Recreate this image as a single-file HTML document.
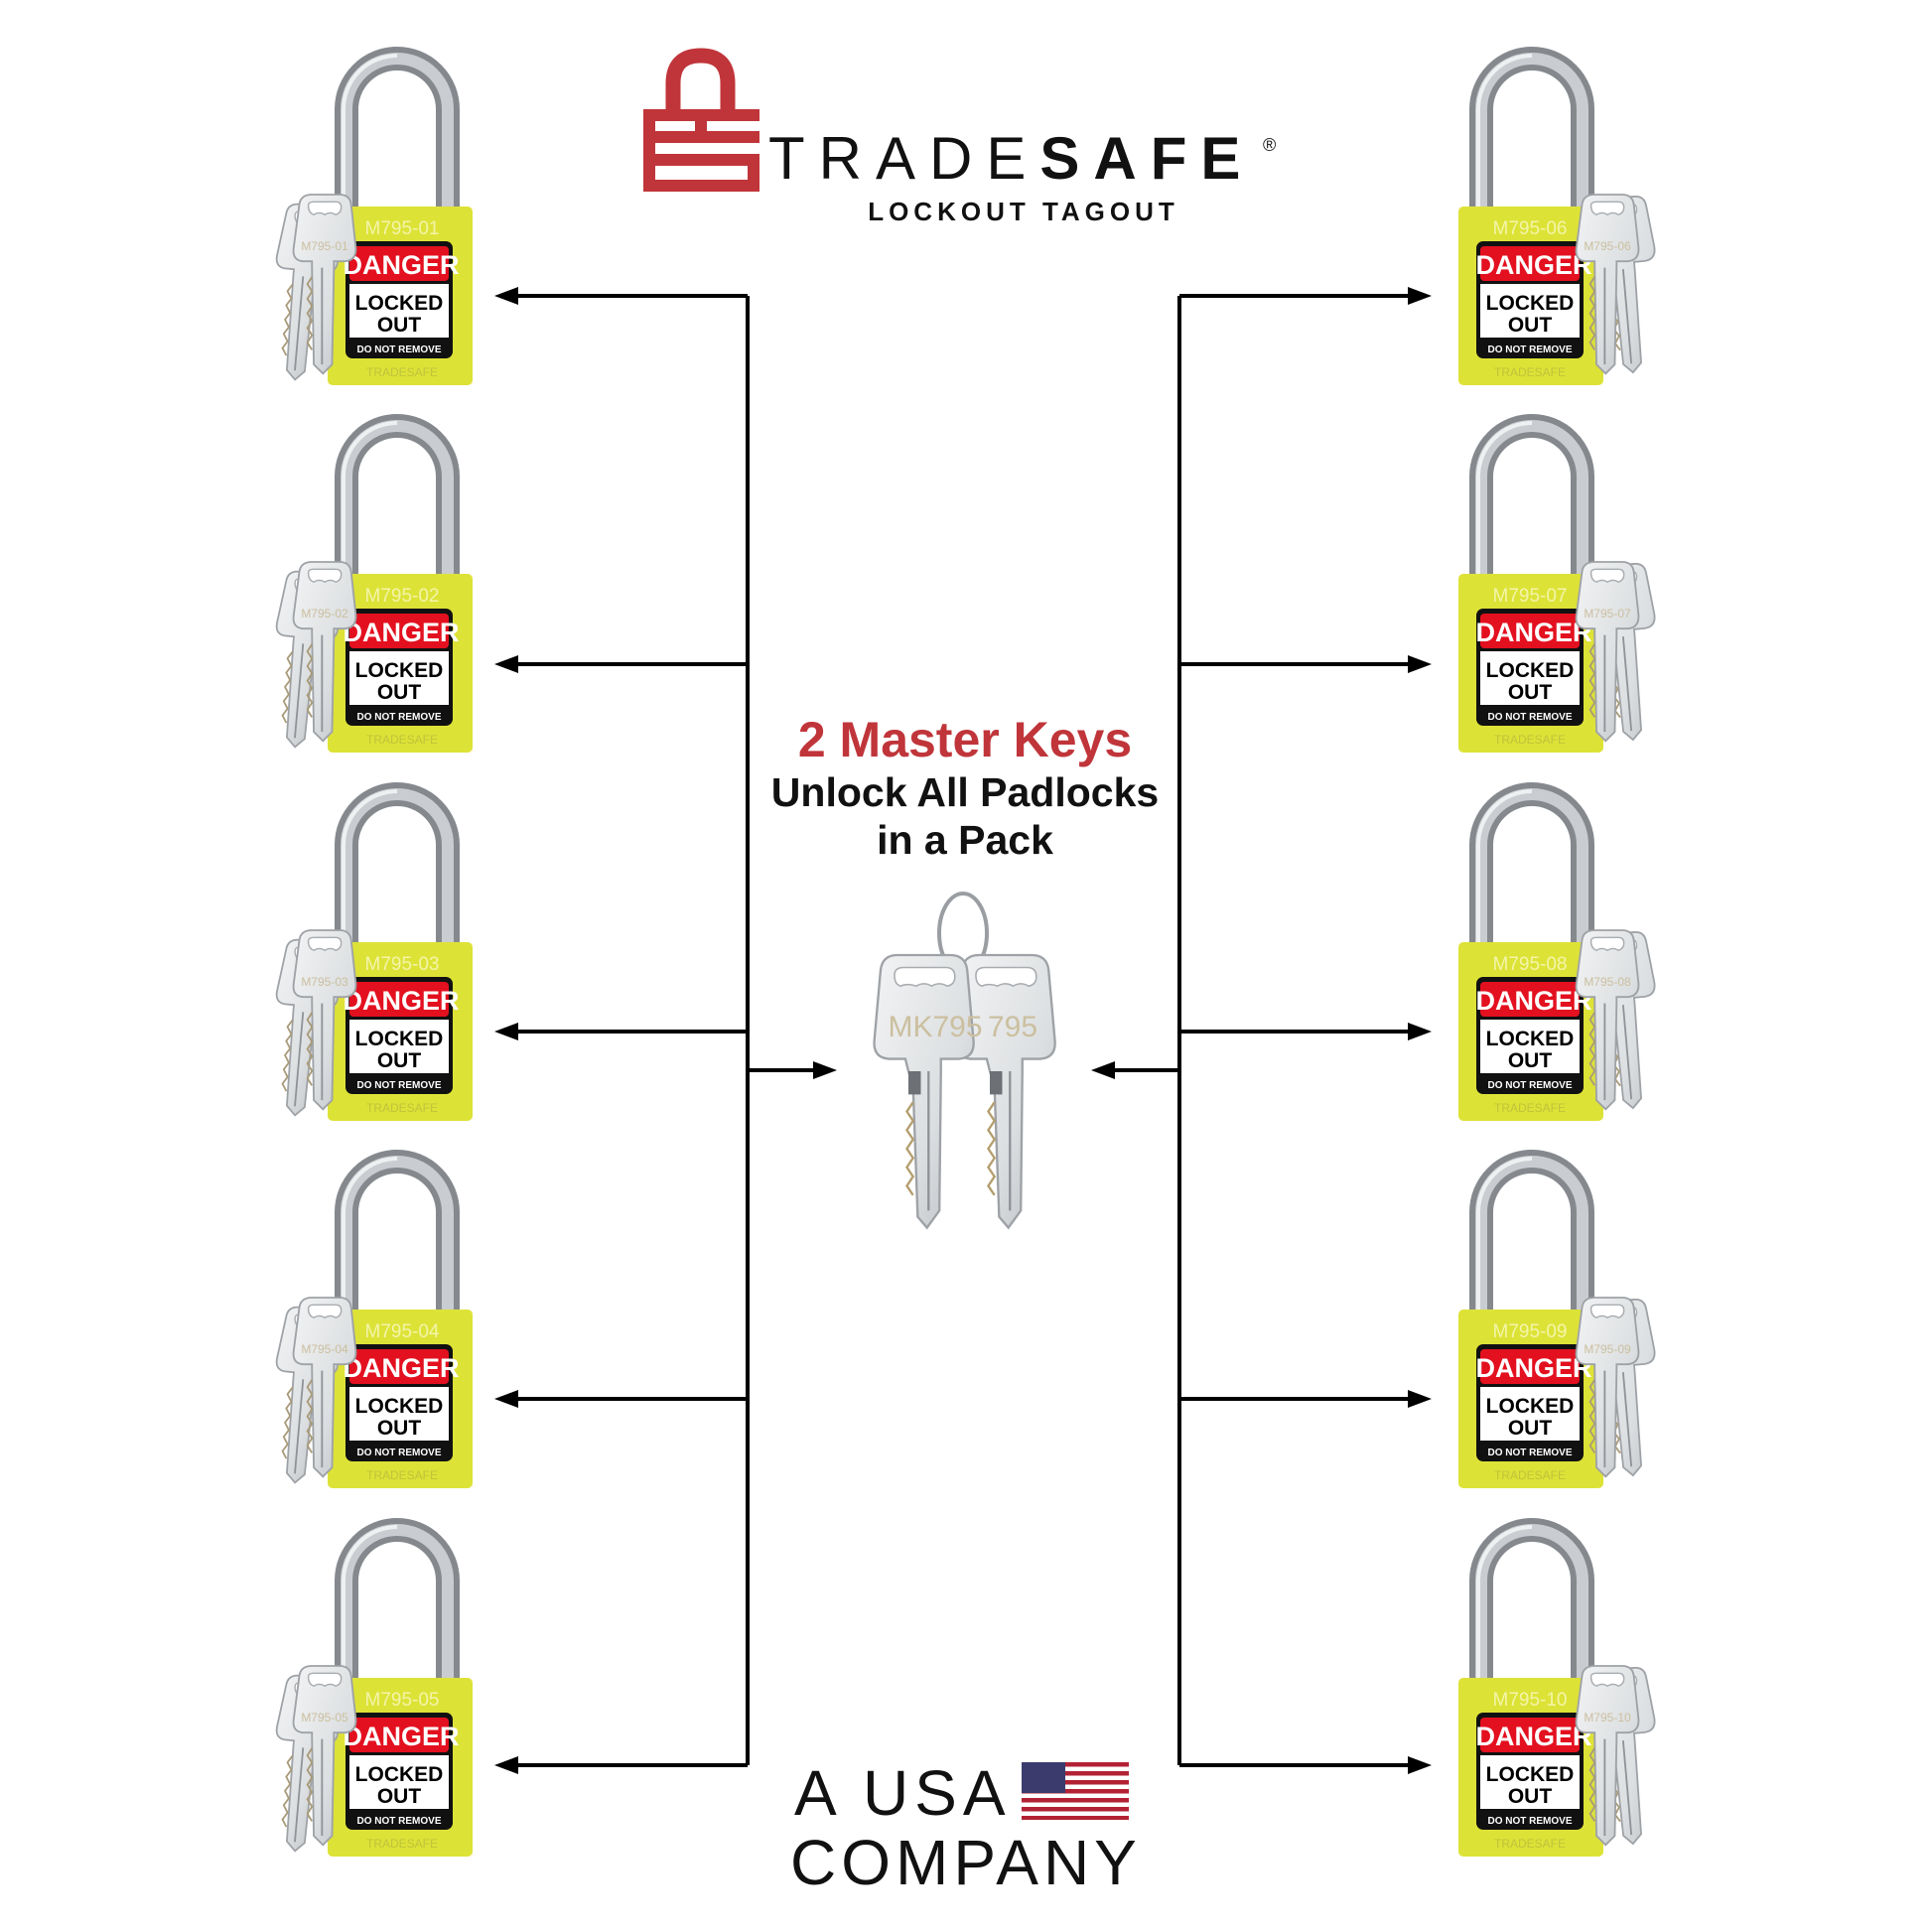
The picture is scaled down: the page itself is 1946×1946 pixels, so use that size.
<!DOCTYPE html>
<html><head><meta charset="utf-8"><style>
html,body{margin:0;padding:0;background:#fff;}
svg{display:block;}
text{font-family:"Liberation Sans",sans-serif;}
</style></head><body>
<svg width="1946" height="1946" viewBox="0 0 1946 1946" xmlns="http://www.w3.org/2000/svg">
<defs>
<linearGradient id="keyg" x1="0" x2="1" y1="0" y2="1">
<stop offset="0" stop-color="#f2f3f4"/><stop offset="0.6" stop-color="#dcdfe1"/><stop offset="1" stop-color="#b9bdc1"/>
</linearGradient>
<g id="shackle">
<path d="M19,12 V-98 A51,51 0 0 1 121,-98 V12" fill="none" stroke="#85898e" stroke-width="24"/>
<path d="M19,12 V-98 A51,51 0 0 1 121,-98 V12" fill="none" stroke="#c9ccd0" stroke-width="12"/>
<path d="M16,12 V-98 A54,54 0 0 1 70,-152" fill="none" stroke="#eef0f1" stroke-width="4"/>
</g>
<g id="body">
<rect x="0" y="0" width="146" height="180" rx="5" fill="#dde237"/>
<rect x="18" y="35" width="108" height="118" rx="7" fill="#111"/>
<rect x="22" y="40" width="100" height="35" rx="4" fill="#e3101f"/>
<rect x="22" y="78" width="100" height="54" fill="#fff"/>
</g>
<g id="key">
<path d="M8,12 Q9,0 22,0 H52 Q64,0 65,12 L70,58 Q71,72 58,73 H46 L46,80 L44,186 L34,196 L24,186 L22,80 L22,73 H12 Q0,72 2,58 Z" fill="url(#keyg)" stroke="#9ea2a6" stroke-width="2"/>
<path d="M18,12 Q18,8 24,8 H48 Q54,8 54,14 Q54,20 48,22 Q42,18 36,22 Q30,18 24,22 Q18,20 18,12 Z" fill="#fff" stroke="#a8acb0" stroke-width="1.5"/>
<path d="M22,90 L17,98 L22,106 L17,114 L22,122 L17,130 L22,138 L17,146 L22,154 L17,162 L22,170" fill="none" stroke="#a99a7a" stroke-width="2"/>
<line x1="33" y1="80" x2="33" y2="186" stroke="#8f9398" stroke-width="2"/>
</g>
<g id="bigkey">
<path d="M14,20 Q16,0 36,0 H104 Q124,0 126,20 L134,110 Q136,132 116,134 H92 L92,150 L90,330 L74,352 L62,338 L56,170 L50,150 L46,134 H24 Q4,132 6,110 Z" fill="url(#keyg)" stroke="#9ea2a6" stroke-width="3"/>
<path d="M32,26 Q32,16 44,16 H98 Q110,16 110,28 Q110,38 100,40 Q90,34 80,40 Q70,34 60,40 Q48,36 40,40 Q32,38 32,26 Z" fill="#fff" stroke="#a8acb0" stroke-width="2"/>
<path d="M56,190 L48,202 L56,214 L48,226 L56,238 L48,250 L56,262 L48,274 L56,286 L48,298 L56,310" fill="none" stroke="#b39e6e" stroke-width="3"/>
<rect x="50" y="150" width="16" height="30" fill="#6d7176"/>
<line x1="76" y1="150" x2="76" y2="330" stroke="#8f9398" stroke-width="3"/>
</g>
<g id="lkeys">
<use href="#key" transform="translate(-48,-4) rotate(5) scale(0.9)"/>
<use href="#key" transform="translate(-36,-12) scale(0.92)"/>
</g>
<g id="rkeys">
<use href="#key" transform="translate(130,-6) rotate(-5) scale(0.9)"/>
<use href="#key" transform="translate(117,-12) scale(0.92)"/>
</g>
</defs>

<!-- Logo -->
<g fill="#c0353a">
<path d="M678,120 V84 Q678,56 706,56 Q733,56 733,84 V120" fill="none" stroke="#c0353a" stroke-width="15"/>
<rect x="648" y="110" width="117" height="12"/>
<rect x="648" y="110" width="12" height="83"/>
<rect x="648" y="132" width="117" height="12"/>
<rect x="648" y="155" width="117" height="12"/>
<rect x="753" y="155" width="12" height="38"/>
<rect x="648" y="181" width="117" height="12"/>
<rect x="700" y="122" width="12" height="22"/>
</g>
<text x="774" y="180" font-size="60" fill="#111" letter-spacing="14"><tspan font-weight="normal">TRADE</tspan><tspan font-weight="bold">SAFE</tspan></text>
<text x="1272" y="152" font-size="18" fill="#111">®</text>
<text x="1031" y="222" font-size="26" font-weight="bold" fill="#111" text-anchor="middle" letter-spacing="5">LOCKOUT TAGOUT</text>

<!-- connectors -->
<g stroke="#000" stroke-width="4" fill="none">
<path d="M753,298 V1778"/>
<path d="M1188,298 V1778"/>
<path d="M753,298 H515 M753,669 H515 M753,1039 H515 M753,1409 H515 M753,1778 H515"/>
<path d="M1188,298 H1425 M1188,669 H1425 M1188,1039 H1425 M1188,1409 H1425 M1188,1778 H1425"/>
<path d="M753,1078 H825 M1188,1078 H1117"/>
</g>
<g fill="#000">
<path d="M498,298 l24,-9 v18 z"/><path d="M498,669 l24,-9 v18 z"/><path d="M498,1039 l24,-9 v18 z"/><path d="M498,1409 l24,-9 v18 z"/><path d="M498,1778 l24,-9 v18 z"/>
<path d="M1442,298 l-24,-9 v18 z"/><path d="M1442,669 l-24,-9 v18 z"/><path d="M1442,1039 l-24,-9 v18 z"/><path d="M1442,1409 l-24,-9 v18 z"/><path d="M1442,1778 l-24,-9 v18 z"/>
<path d="M843,1078 l-24,-9 v18 z"/><path d="M1099,1078 l24,-9 v18 z"/>
</g>

<!-- center text -->
<text x="972" y="762" font-size="50" font-weight="bold" fill="#c0353a" text-anchor="middle">2 Master Keys</text>
<text x="972" y="812" font-size="41" font-weight="bold" fill="#111" text-anchor="middle">Unlock All Padlocks</text>
<text x="972" y="860" font-size="41" font-weight="bold" fill="#111" text-anchor="middle">in a Pack</text>

<!-- master keys -->
<ellipse cx="970" cy="940" rx="24" ry="40" fill="none" stroke="#9a9ea2" stroke-width="4"/>
<use href="#bigkey" transform="translate(958,962) scale(0.78)"/>
<use href="#bigkey" transform="translate(876,962) scale(0.78)"/>
<text x="942" y="1044" font-size="30" fill="#cbbf9f" text-anchor="middle">MK795</text>
<text x="1020" y="1044" font-size="30" fill="#cbbf9f" text-anchor="middle">795</text>

<!-- USA -->
<text x="800" y="1828" font-size="64" fill="#111" letter-spacing="6">A USA</text>
<g>
<rect x="1029" y="1775" width="108" height="58" fill="#fff"/>
<g fill="#b22234">
<rect x="1029" y="1775" width="108" height="4.5"/><rect x="1029" y="1784" width="108" height="4.5"/><rect x="1029" y="1793" width="108" height="4.5"/><rect x="1029" y="1802" width="108" height="4.5"/><rect x="1029" y="1811" width="108" height="4.5"/><rect x="1029" y="1820" width="108" height="4.5"/><rect x="1029" y="1829" width="108" height="4"/>
</g>
<rect x="1029" y="1775" width="44" height="31" fill="#3c3b6e"/>
</g>
<text x="796" y="1898" font-size="64" fill="#111" letter-spacing="5">COMPANY</text>

<!-- Left padlocks -->
<g transform="translate(330,208)">
<use href="#shackle"/><use href="#body"/>
<text x="75" y="28" font-size="19" fill="#f3f5a8" text-anchor="middle">M795-01</text>
<text x="74" y="68" font-size="27" font-weight="bold" fill="#fff" text-anchor="middle">DANGER</text>
<text x="72" y="104" font-size="21" font-weight="bold" fill="#000" text-anchor="middle">LOCKED</text>
<text x="72" y="126" font-size="21" font-weight="bold" fill="#000" text-anchor="middle">OUT</text>
<text x="72" y="147" font-size="10" font-weight="bold" fill="#fff" text-anchor="middle">DO NOT REMOVE</text>
<text x="75" y="171" font-size="12" fill="#bfc43a" text-anchor="middle">TRADESAFE</text>
<use href="#lkeys"/>
<text x="-3" y="44" font-size="12" fill="#cbbf9f" text-anchor="middle">M795-01</text>
</g>
<g transform="translate(330,578)">
<use href="#shackle"/><use href="#body"/>
<text x="75" y="28" font-size="19" fill="#f3f5a8" text-anchor="middle">M795-02</text>
<text x="74" y="68" font-size="27" font-weight="bold" fill="#fff" text-anchor="middle">DANGER</text>
<text x="72" y="104" font-size="21" font-weight="bold" fill="#000" text-anchor="middle">LOCKED</text>
<text x="72" y="126" font-size="21" font-weight="bold" fill="#000" text-anchor="middle">OUT</text>
<text x="72" y="147" font-size="10" font-weight="bold" fill="#fff" text-anchor="middle">DO NOT REMOVE</text>
<text x="75" y="171" font-size="12" fill="#bfc43a" text-anchor="middle">TRADESAFE</text>
<use href="#lkeys"/>
<text x="-3" y="44" font-size="12" fill="#cbbf9f" text-anchor="middle">M795-02</text>
</g>
<g transform="translate(330,949)">
<use href="#shackle"/><use href="#body"/>
<text x="75" y="28" font-size="19" fill="#f3f5a8" text-anchor="middle">M795-03</text>
<text x="74" y="68" font-size="27" font-weight="bold" fill="#fff" text-anchor="middle">DANGER</text>
<text x="72" y="104" font-size="21" font-weight="bold" fill="#000" text-anchor="middle">LOCKED</text>
<text x="72" y="126" font-size="21" font-weight="bold" fill="#000" text-anchor="middle">OUT</text>
<text x="72" y="147" font-size="10" font-weight="bold" fill="#fff" text-anchor="middle">DO NOT REMOVE</text>
<text x="75" y="171" font-size="12" fill="#bfc43a" text-anchor="middle">TRADESAFE</text>
<use href="#lkeys"/>
<text x="-3" y="44" font-size="12" fill="#cbbf9f" text-anchor="middle">M795-03</text>
</g>
<g transform="translate(330,1319)">
<use href="#shackle"/><use href="#body"/>
<text x="75" y="28" font-size="19" fill="#f3f5a8" text-anchor="middle">M795-04</text>
<text x="74" y="68" font-size="27" font-weight="bold" fill="#fff" text-anchor="middle">DANGER</text>
<text x="72" y="104" font-size="21" font-weight="bold" fill="#000" text-anchor="middle">LOCKED</text>
<text x="72" y="126" font-size="21" font-weight="bold" fill="#000" text-anchor="middle">OUT</text>
<text x="72" y="147" font-size="10" font-weight="bold" fill="#fff" text-anchor="middle">DO NOT REMOVE</text>
<text x="75" y="171" font-size="12" fill="#bfc43a" text-anchor="middle">TRADESAFE</text>
<use href="#lkeys"/>
<text x="-3" y="44" font-size="12" fill="#cbbf9f" text-anchor="middle">M795-04</text>
</g>
<g transform="translate(330,1690)">
<use href="#shackle"/><use href="#body"/>
<text x="75" y="28" font-size="19" fill="#f3f5a8" text-anchor="middle">M795-05</text>
<text x="74" y="68" font-size="27" font-weight="bold" fill="#fff" text-anchor="middle">DANGER</text>
<text x="72" y="104" font-size="21" font-weight="bold" fill="#000" text-anchor="middle">LOCKED</text>
<text x="72" y="126" font-size="21" font-weight="bold" fill="#000" text-anchor="middle">OUT</text>
<text x="72" y="147" font-size="10" font-weight="bold" fill="#fff" text-anchor="middle">DO NOT REMOVE</text>
<text x="75" y="171" font-size="12" fill="#bfc43a" text-anchor="middle">TRADESAFE</text>
<use href="#lkeys"/>
<text x="-3" y="44" font-size="12" fill="#cbbf9f" text-anchor="middle">M795-05</text>
</g>

<!-- Right padlocks -->
<g transform="translate(1469,208)">
<use href="#shackle" x="4"/><use href="#body"/>
<text x="72" y="28" font-size="19" fill="#f3f5a8" text-anchor="middle">M795-06</text>
<text x="76" y="68" font-size="27" font-weight="bold" fill="#fff" text-anchor="middle">DANGER</text>
<text x="72" y="104" font-size="21" font-weight="bold" fill="#000" text-anchor="middle">LOCKED</text>
<text x="72" y="126" font-size="21" font-weight="bold" fill="#000" text-anchor="middle">OUT</text>
<text x="72" y="147" font-size="10" font-weight="bold" fill="#fff" text-anchor="middle">DO NOT REMOVE</text>
<text x="72" y="171" font-size="12" fill="#bfc43a" text-anchor="middle">TRADESAFE</text>
<use href="#rkeys"/>
<text x="150" y="44" font-size="12" fill="#cbbf9f" text-anchor="middle">M795-06</text>
</g>
<g transform="translate(1469,578)">
<use href="#shackle" x="4"/><use href="#body"/>
<text x="72" y="28" font-size="19" fill="#f3f5a8" text-anchor="middle">M795-07</text>
<text x="76" y="68" font-size="27" font-weight="bold" fill="#fff" text-anchor="middle">DANGER</text>
<text x="72" y="104" font-size="21" font-weight="bold" fill="#000" text-anchor="middle">LOCKED</text>
<text x="72" y="126" font-size="21" font-weight="bold" fill="#000" text-anchor="middle">OUT</text>
<text x="72" y="147" font-size="10" font-weight="bold" fill="#fff" text-anchor="middle">DO NOT REMOVE</text>
<text x="72" y="171" font-size="12" fill="#bfc43a" text-anchor="middle">TRADESAFE</text>
<use href="#rkeys"/>
<text x="150" y="44" font-size="12" fill="#cbbf9f" text-anchor="middle">M795-07</text>
</g>
<g transform="translate(1469,949)">
<use href="#shackle" x="4"/><use href="#body"/>
<text x="72" y="28" font-size="19" fill="#f3f5a8" text-anchor="middle">M795-08</text>
<text x="76" y="68" font-size="27" font-weight="bold" fill="#fff" text-anchor="middle">DANGER</text>
<text x="72" y="104" font-size="21" font-weight="bold" fill="#000" text-anchor="middle">LOCKED</text>
<text x="72" y="126" font-size="21" font-weight="bold" fill="#000" text-anchor="middle">OUT</text>
<text x="72" y="147" font-size="10" font-weight="bold" fill="#fff" text-anchor="middle">DO NOT REMOVE</text>
<text x="72" y="171" font-size="12" fill="#bfc43a" text-anchor="middle">TRADESAFE</text>
<use href="#rkeys"/>
<text x="150" y="44" font-size="12" fill="#cbbf9f" text-anchor="middle">M795-08</text>
</g>
<g transform="translate(1469,1319)">
<use href="#shackle" x="4"/><use href="#body"/>
<text x="72" y="28" font-size="19" fill="#f3f5a8" text-anchor="middle">M795-09</text>
<text x="76" y="68" font-size="27" font-weight="bold" fill="#fff" text-anchor="middle">DANGER</text>
<text x="72" y="104" font-size="21" font-weight="bold" fill="#000" text-anchor="middle">LOCKED</text>
<text x="72" y="126" font-size="21" font-weight="bold" fill="#000" text-anchor="middle">OUT</text>
<text x="72" y="147" font-size="10" font-weight="bold" fill="#fff" text-anchor="middle">DO NOT REMOVE</text>
<text x="72" y="171" font-size="12" fill="#bfc43a" text-anchor="middle">TRADESAFE</text>
<use href="#rkeys"/>
<text x="150" y="44" font-size="12" fill="#cbbf9f" text-anchor="middle">M795-09</text>
</g>
<g transform="translate(1469,1690)">
<use href="#shackle" x="4"/><use href="#body"/>
<text x="72" y="28" font-size="19" fill="#f3f5a8" text-anchor="middle">M795-10</text>
<text x="76" y="68" font-size="27" font-weight="bold" fill="#fff" text-anchor="middle">DANGER</text>
<text x="72" y="104" font-size="21" font-weight="bold" fill="#000" text-anchor="middle">LOCKED</text>
<text x="72" y="126" font-size="21" font-weight="bold" fill="#000" text-anchor="middle">OUT</text>
<text x="72" y="147" font-size="10" font-weight="bold" fill="#fff" text-anchor="middle">DO NOT REMOVE</text>
<text x="72" y="171" font-size="12" fill="#bfc43a" text-anchor="middle">TRADESAFE</text>
<use href="#rkeys"/>
<text x="150" y="44" font-size="12" fill="#cbbf9f" text-anchor="middle">M795-10</text>
</g>
</svg>
</body></html>
